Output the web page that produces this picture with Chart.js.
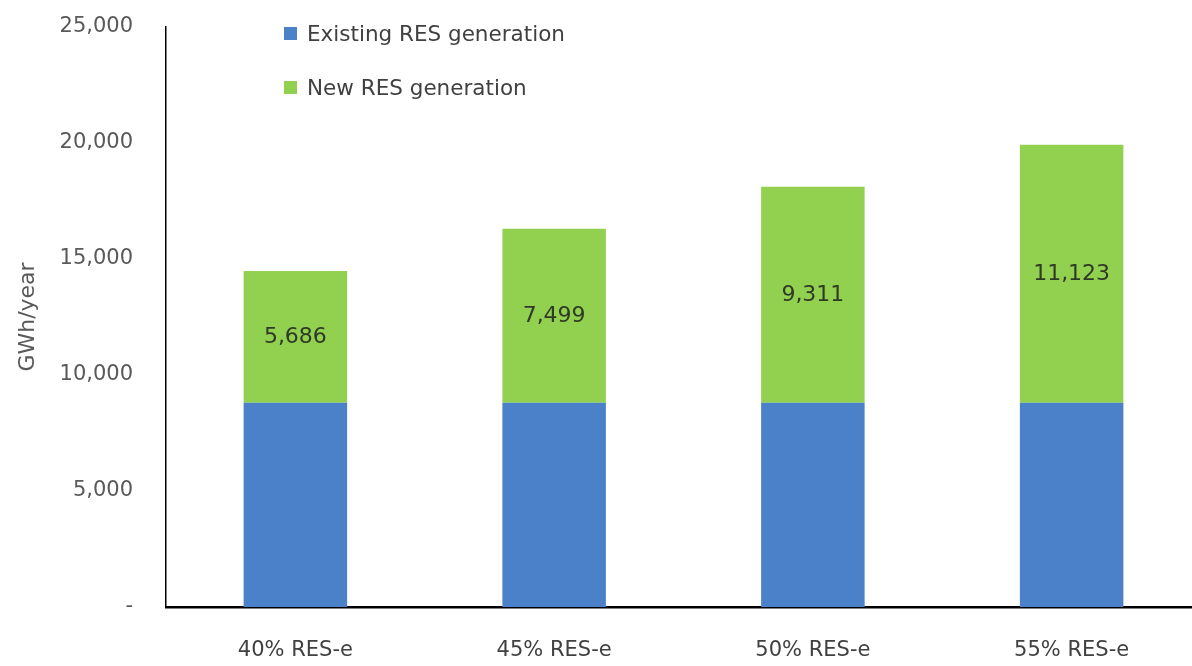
<!DOCTYPE html>
<html>
<head>
<meta charset="utf-8">
<script src="https://cdn.jsdelivr.net/npm/chart.js@4/dist/chart.umd.min.js"></script>
<style>
  html, body { margin: 0; padding: 0; background: #fff; overflow: hidden; }
  .wrap { position: relative; width: 1202px; height: 666px; }
  .legend { position: absolute; left: 284px; top: 18px; font-family: "DejaVu Sans", sans-serif; font-size: 21.5px; color: #404040; }
  .legend div { display: flex; align-items: center; height: 30px; margin-bottom: 24px; }
  .legend span { display: inline-block; width: 13px; height: 13px; margin-right: 10px; }
</style>
</head>
<body>
<div class="wrap">
  <canvas id="resChart" width="1202" height="666"></canvas>
  <div class="legend" id="legend"></div>
</div>
<script>
const categories = ["40% RES-e", "45% RES-e", "50% RES-e", "55% RES-e"];
const existingRes = [8800, 8800, 8800, 8800];
const newRes = [5686, 7499, 9311, 11123];
const yTicks = [0, 5000, 10000, 15000, 20000, 25000];

const blue = "#4a81c9";
const green = "#92d050";
const font = "'DejaVu Sans', sans-serif";

const legend = document.getElementById("legend");
[["Existing RES generation", blue], ["New RES generation", green]].forEach(([text, color]) => {
  const row = document.createElement("div");
  row.innerHTML = `<span style="background:${color}"></span>${text}`;
  legend.appendChild(row);
});

// value labels in the middle of the green segments
const segmentLabels = {
  id: "segmentLabels",
  afterDatasetsDraw(chart) {
    const { ctx } = chart;
    const meta = chart.getDatasetMeta(1);
    ctx.save();
    ctx.font = "22px " + font;
    ctx.fillStyle = "#2e3a26";
    ctx.textAlign = "center";
    ctx.textBaseline = "middle";
    meta.data.forEach((bar, i) => {
      const mid = (bar.y + bar.base) / 2;
      ctx.fillText(newRes[i].toLocaleString("en-US"), bar.x, mid);
    });
    ctx.restore();
  },
};

const ctx = document.getElementById("resChart");

new Chart(ctx, {
  type: "bar",
  data: {
    labels: categories,
    datasets: [
      { label: "Existing RES generation", data: existingRes, backgroundColor: blue },
      { label: "New RES generation", data: newRes, backgroundColor: green },
    ],
  },
  options: {
    responsive: false,
    animation: false,
    layout: { padding: { top: 27, right: 1, left: 0, bottom: 0 } },
    barPercentage: 0.4,
    categoryPercentage: 1,
    plugins: {
      legend: { display: false },
      tooltip: { enabled: false },
    },
    scales: {
      x: {
        stacked: true,
        grid: { display: false, drawTicks: false },
        border: { color: "#000", width: 2.5 },
        ticks: {
          color: "#404040",
          padding: 31,
          font: { family: font, size: 21 },
        },
        afterFit(scale) {
          scale.height = 59;
          scale.paddingLeft = 0;
          scale.paddingRight = 0;
        },
      },
      y: {
        stacked: true,
        min: 0,
        max: 25000,
        grid: { display: false, drawTicks: false },
        border: { color: "#000", width: 1.5 },
        afterBuildTicks(scale) { scale.ticks = yTicks.map((v) => ({ value: v })); },
        afterFit(scale) {
          scale.width = 166;
          scale.paddingTop = 0;
          scale.paddingBottom = 0;
        },
        ticks: {
          color: "#595959",
          padding: 33,
          font: { family: font, size: 21 },
          callback: (v) => (v === 0 ? "-" : v.toLocaleString("en-US")),
        },
        title: {
          display: true,
          text: "GWh/year",
          color: "#595959",
          padding: { top: 15, bottom: 0 },
          font: { family: font, size: 22 },
        },
      },
    },
  },
  plugins: [segmentLabels],
});
</script>
</body>
</html>
